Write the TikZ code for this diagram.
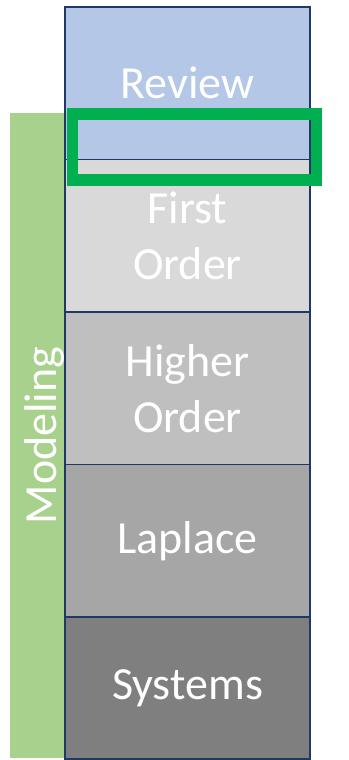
\documentclass[tikz,border=0pt]{standalone}
\usepackage{fontspec}
\setmainfont{Carlito}
\usetikzlibrary{positioning}
\definecolor{navy}{HTML}{1F3864}
\definecolor{reviewblue}{HTML}{B4C7E7}
\definecolor{greyA}{HTML}{D9D9D9}
\definecolor{greyB}{HTML}{BFBFBF}
\definecolor{greyC}{HTML}{A6A6A6}
\definecolor{greyD}{HTML}{7F7F7F}
\definecolor{modelgreen}{HTML}{A9D18E}
\definecolor{focusgreen}{HTML}{00B050}

\begin{document}
\begin{tikzpicture}[x=1pt,y=1pt,
  topic/.style={draw=navy,line width=1.5pt,outer sep=0pt,inner sep=0pt,minimum width=245pt,minimum height=152.5pt,align=center,text=white,font=\fontsize{46}{56}\selectfont},
  strip/.style={fill=modelgreen,outer sep=0pt,inner sep=0pt,minimum width=645pt,minimum height=56pt}]
    \useasboundingbox (0,0) rectangle (348,-760);

    \node[strip,rotate=90] (modeling) at (38,-435.5) {};
    \node[rotate=90,inner sep=0pt,text=white,font=\fontsize{46}{56}\selectfont] (modeltext) at (44,-435.5) {Modeling};

    \node[topic,fill=reviewblue,anchor=north west] (review) at (65,-7) {Review};
    \node[topic,fill=greyA,below=0pt of review] (first) {First\\Order};
    \node[topic,fill=greyB,below=0pt of first] (higher) {Higher\\Order};
    \node[topic,fill=greyC,below=0pt of higher] (laplace) {Laplace};
    \node[topic,fill=greyD,anchor=north,minimum height=142pt] (systems) at (laplace.south) {Systems};

    \node[draw=focusgreen,line width=11.5pt,inner sep=0pt,minimum width=244pt,minimum height=66pt] (focus) at (194.5,-147) {};
\end{tikzpicture}
\end{document}
